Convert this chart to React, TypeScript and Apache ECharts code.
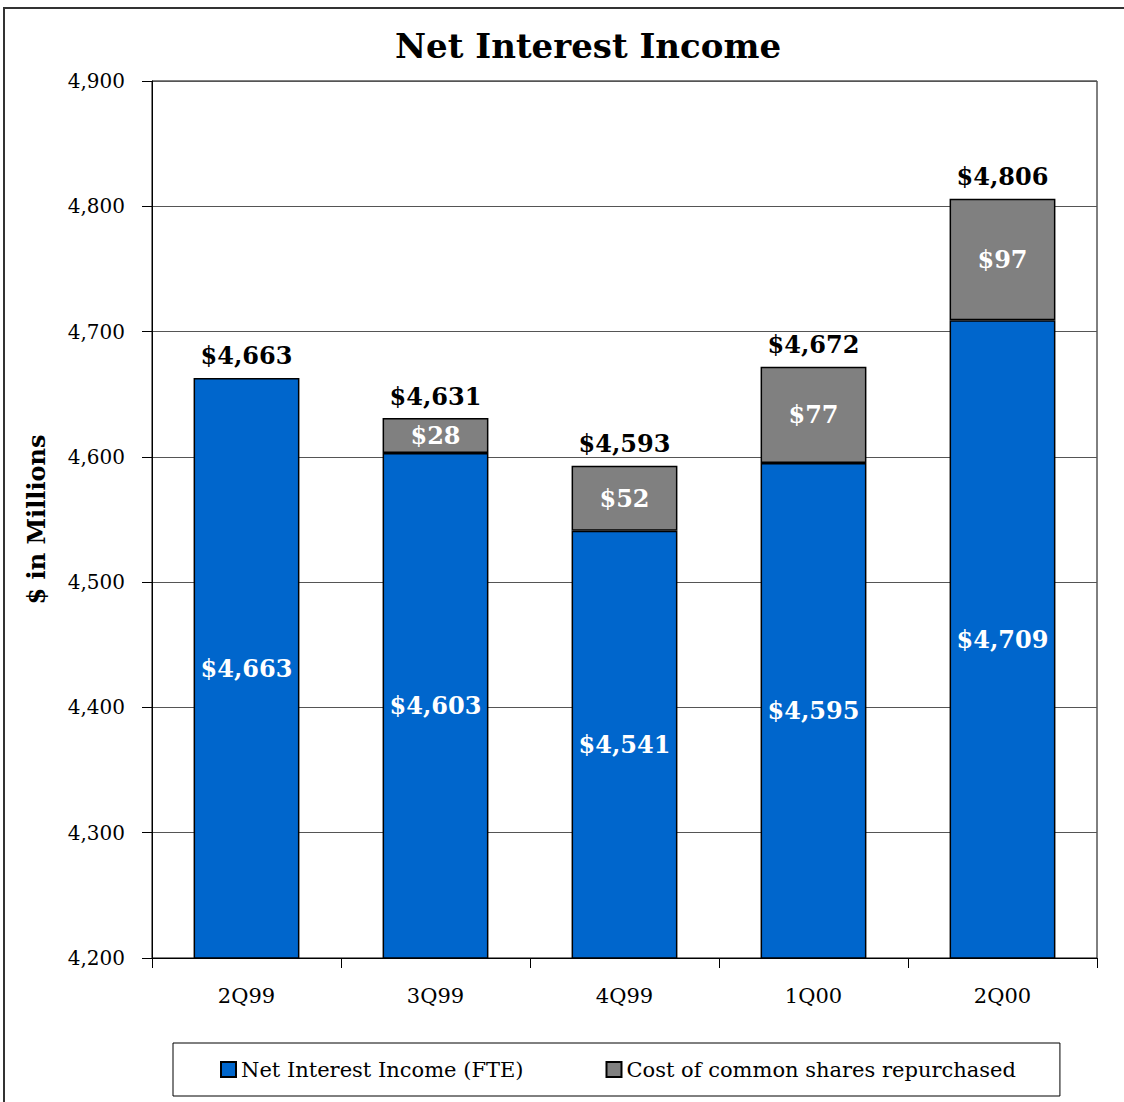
import React, { useEffect, useRef } from "react";
import * as echarts from "echarts";

const categories = ["2Q99", "3Q99", "4Q99", "1Q00", "2Q00"];
const netInterestIncome = [4663, 4603, 4541, 4595, 4709];
const sharesRepurchased: (number | null)[] = [null, 28, 52, 77, 97];
const totals = [4663, 4631, 4593, 4672, 4806];

const FONT = "DejaVu Serif";

export default function App() {
  const ref = useRef<HTMLDivElement>(null);
  useEffect(() => {
    if (!ref.current) return;
    const chart = echarts.init(ref.current, undefined, { renderer: "svg" });
    const fmt = (v: number) => "$" + v.toLocaleString("en-US");
    chart.setOption({
      animation: false,
      backgroundColor: "#ffffff",
      title: {
        text: "Net Interest Income",
        left: 395,
        top: 29,
        padding: 0,
        textStyle: { fontFamily: FONT, fontWeight: "bold", fontSize: 34, color: "#000" },
      },
      graphic: [
        {
          type: "rect",
          shape: { x: 4, y: 8, width: 1300, height: 1300 },
          style: { fill: "none", stroke: "#333", lineWidth: 2 },
          silent: true,
        },
      ],
      legend: {
        left: 173,
        top: 1043,
        orient: "horizontal",
        borderColor: "#000",
        borderWidth: 1,
        padding: [16, 44, 16, 47],
        itemWidth: 15,
        itemHeight: 15,
        itemGap: 82,
        icon: "rect",
        textStyle: { fontFamily: FONT, fontSize: 21, color: "#000" },
        data: ["Net Interest Income (FTE)", "Cost of common shares repurchased"],
      },
      grid: {
        left: 152,
        right: 27,
        top: 81,
        bottom: 144,
        show: true,
        borderColor: "#000",
        borderWidth: 1,
        containLabel: false,
      },
      xAxis: {
        type: "category",
        data: categories,
        axisLine: { lineStyle: { color: "#000", width: 1 } },
        axisTick: { show: true, length: 10, inside: false, lineStyle: { color: "#000" } },
        axisLabel: { fontFamily: FONT, fontSize: 21, color: "#000", margin: 27 },
      },
      yAxis: {
        type: "value",
        min: 4200,
        max: 4900,
        interval: 100,
        name: "$ in Millions",
        nameLocation: "middle",
        nameGap: 104,
        nameTextStyle: { fontFamily: FONT, fontWeight: "bold", fontSize: 24, color: "#000" },
        axisLine: { show: true, lineStyle: { color: "#000" } },
        axisTick: { show: true, length: 10, lineStyle: { color: "#000" } },
        axisLabel: {
          fontFamily: FONT,
          fontSize: 20,
          color: "#000",
          margin: 27,
          formatter: (v: number) => v.toLocaleString("en-US"),
        },
        splitLine: { show: true, lineStyle: { color: "#555", width: 1 } },
      },
      series: [
        {
          name: "Net Interest Income (FTE)",
          type: "bar",
          stack: "total",
          barWidth: "56%",
          data: netInterestIncome,
          itemStyle: { color: "#0066CC", borderColor: "#000", borderWidth: 1.5 },
          label: {
            show: true,
            position: "inside",
            formatter: (p: any) => fmt(p.value),
            fontFamily: FONT,
            fontWeight: "bold",
            fontSize: 24,
            color: "#fff",
          },
        },
        {
          name: "Cost of common shares repurchased",
          type: "bar",
          stack: "total",
          barWidth: "56%",
          data: sharesRepurchased,
          itemStyle: { color: "#808080", borderColor: "#000", borderWidth: 1.5 },
          label: {
            show: true,
            position: "inside",
            formatter: (p: any) => fmt(p.value),
            fontFamily: FONT,
            fontWeight: "bold",
            fontSize: 24,
            color: "#fff",
          },
        },
        {
          name: "Total",
          type: "scatter",
          symbolSize: 0,
          data: totals,
          silent: true,
          itemStyle: { color: "#000", opacity: 1 },
          label: {
            show: true,
            position: "top",
            distance: 10,
            formatter: (p: any) => fmt(p.value),
            fontFamily: FONT,
            fontWeight: "bold",
            fontSize: 24,
            color: "#000",
            opacity: 1,
          },
        },
      ],
    });
    return () => chart.dispose();
  }, []);
  return (
    <div
      ref={ref}
      style={{ position: "absolute", left: 0, top: 0, width: 1124, height: 1102 }}
    />
  );
}
